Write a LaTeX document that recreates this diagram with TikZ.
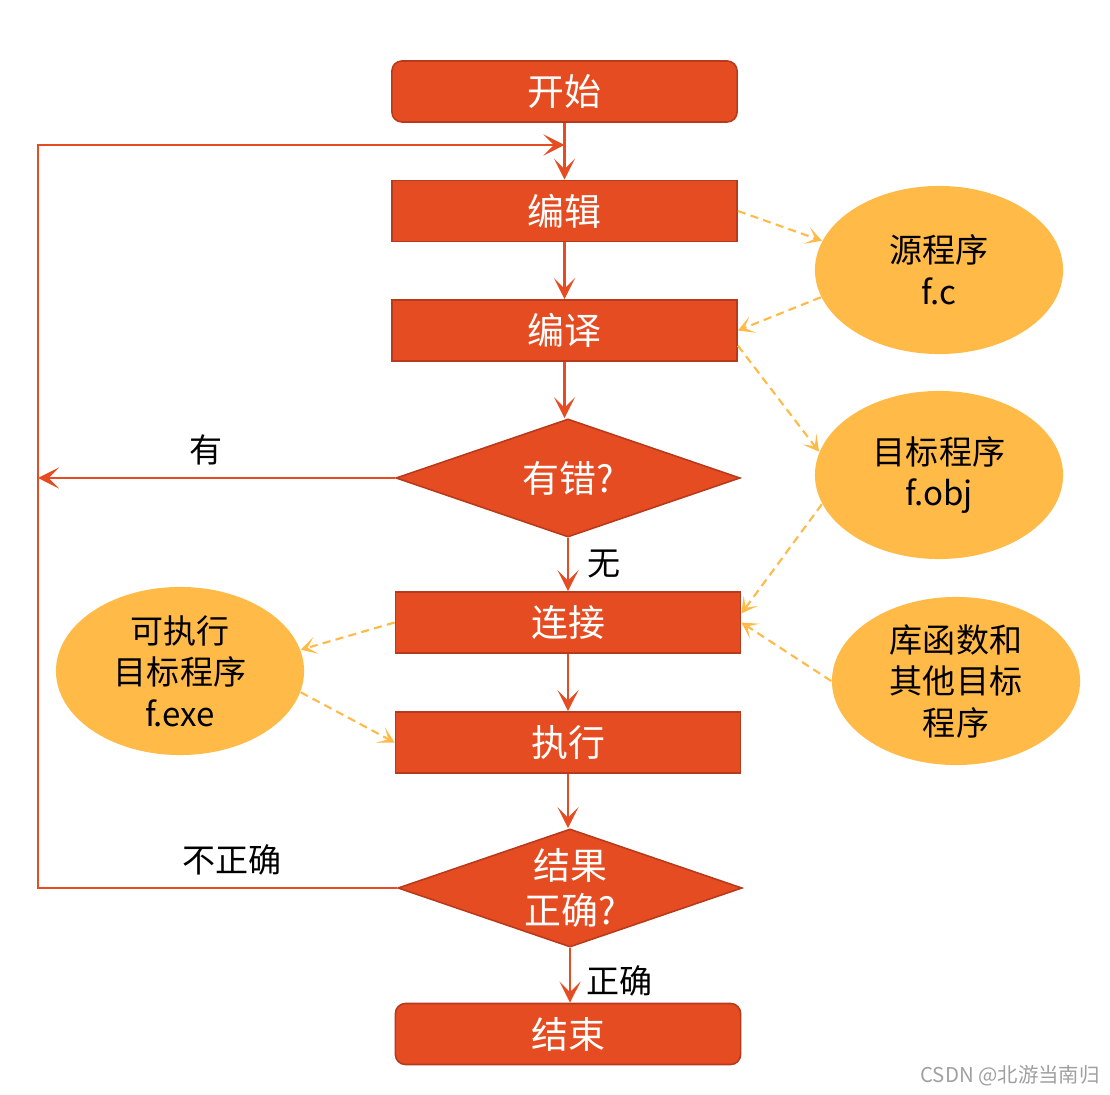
\documentclass[tikz,border=0pt]{standalone}
\usepackage{fontspec}
\setmainfont{Noto Sans CJK SC}
\usetikzlibrary{arrows.meta,shapes.geometric}
\definecolor{boxred}{HTML}{E64C22}
\definecolor{boxedge}{HTML}{B83A1C}
\definecolor{ovalyellow}{HTML}{FFBA47}
\definecolor{markgray}{HTML}{A0A0A0}

\begin{document}
\begin{tikzpicture}[x=0.01cm,y=-0.01cm,>={Stealth[length=6pt,width=6pt,inset=3pt]},
                stepbox/.style={draw=boxedge,line width=0.45pt,fill=boxred,text=white,minimum width=3.45cm,minimum height=0.61cm,inner sep=0pt,font=\fontsize{10.5pt}{13pt}\selectfont},
                endbox/.style={stepbox,rounded corners=1mm},
                ask/.style={diamond,aspect=2.9,draw=boxedge,line width=0.45pt,fill=boxred,text=white,minimum width=3.44cm,minimum height=1.18cm,inner sep=0pt,align=center,font=\fontsize{10.5pt}{13pt}\selectfont},
                file/.style={ellipse,fill=ovalyellow,minimum width=2.48cm,minimum height=1.68cm,inner sep=-2pt,align=center,font=\fontsize{9.4pt}{11.8pt}\selectfont},
                flow/.style={every edge/.append style={->,draw=boxred,line width=0.6pt}},
                back/.style={->,draw=boxred,line width=0.4pt},
                data/.style={every edge/.append style={-{Stealth[length=4.5pt,width=5pt,inset=2.5pt]},draw=ovalyellow,line width=0.6pt,dash pattern=on 2.3pt off 1.5pt}},
                tag/.style={font=\fontsize{9.4pt}{11pt}\selectfont,text=black}]
                \useasboundingbox (0,0) rectangle (1110,1095);
                % main column
                \node[endbox](start)at(564.5, 91.5){开始};
                \node[stepbox](edit)at(564.5, 211){编辑};
                \node[stepbox](comp)at(564.5, 330.5){编译};
                \node[ask](err)at(568, 478){有错?};
                \node[stepbox](link)at(568, 622.5){连接};
                \node[stepbox](run)at(568, 742.5){执行};
                \node[ask](check)at(570, 888){结果\\正确?};
                \node[endbox](stop)at(568, 1034){结束};
                % files
                \node[file](src)at(939, 270){源程序\\f.c};
                \node[file](obj)at(939, 475){目标程序\\f.obj};
                \node[file](lib)at(956, 681){库函数和\\其他目标\\程序};
                \node[file](exe)at(180, 671){可执行\\目标程序\\f.exe};
                \coordinate(corner)at(38, 145);
                \coordinate(merge)at(start |- corner);
                \coordinate(errout)at(corner |- err);
                \path[flow](start) edge (edit)
                (edit) edge (comp)
                (comp.south) edge (comp.south |- err.north)
                (err) edge node[right,tag,xshift=2pt]{无} (link)
                (link) edge (run)
                (run.south) edge (run.south |- check.north)
                (check.south) edge node[right,tag,pos=0.6,xshift=1pt]{正确} (check.south |- stop.north)
                (err) edge node[above,tag,pos=0.53]{有} (errout);
                \draw[back](check.west) -| node[pos=0.23,above,tag]{不正确} (corner) -- (merge);
                \path[data](edit.east) edge (src.166)
                (src.193) edge (comp.east)
                (comp.-5) edge (obj.169)
                (obj.194) edge (link.3)
                (lib.west) edge (link.east)
                (link.west) edge (exe.10)
                (exe.-10) edge (run.west);
                \node[text=markgray,font=\fontsize{5.8pt}{7pt}\selectfont](credit)at(1010, 1076){CSDN @北游当南归};
            \end{tikzpicture}
\end{document}
